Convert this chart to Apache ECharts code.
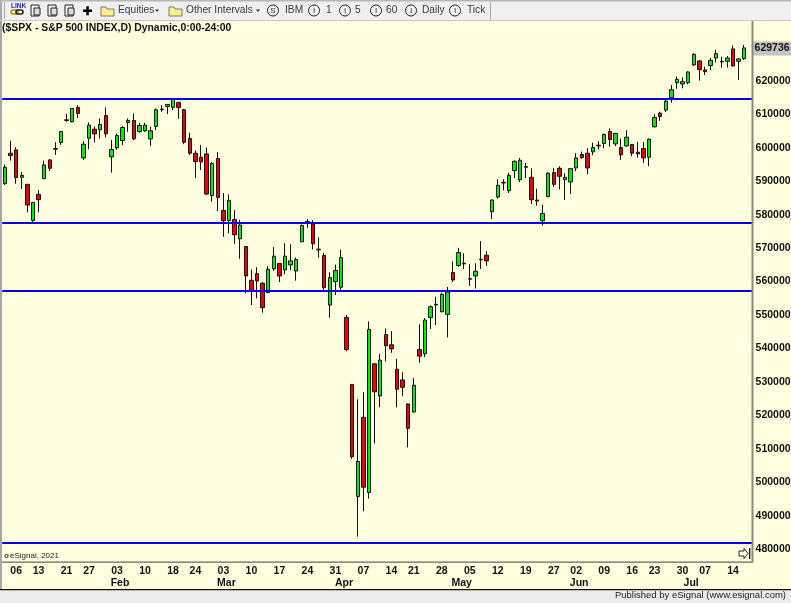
<!DOCTYPE html>
<html>
<head>
<meta charset="utf-8">
<style>html,body{margin:0;padding:0;background:#ffffe0}#main{width:791px;height:603px}</style>
<script src="https://cdn.jsdelivr.net/npm/echarts@6/dist/echarts.min.js"></script>
</head>
<body>
<div id="main"></div>
<script>
// daily bars, S&P 500 points
var opens = [5893,5984,5994,5912,5891,5783,5861,5908,5964,5996,6016,6082,6078,6121,5970,6029,6056,6054,6097,5973,6000,6022,6076,6082,6049,6051,6027,6064,6114,6124,6121,6136,6114,6028,5984,
  5972,5982,5857,5968,5813,5783,5786,5728,5705,5604,5624,5595,5567,5638,5654,5635,5650,5632,5719,5778,5772,5695,5678,5530,5600,5583,5493,5292,4957,5194,4969,5354,5258,5442,5411,5338,5306,5234,5210,5397,5384,5492,5530,5510,5502,
  5627,5648,5653,5607,5617,5665,5679,5809,5853,5895,5872,5932,5905,5942,5912,5841,5782,5854,5926,5939,5905,5898,5940,5980,5984,5988,6006,6013,6049,6012,6001,6006,6010,5987,5998,5972,6063,6104,6113,6150,6195,6191,6195,6248,6260,6233,6246,6269,6257,6259,6296,6259,6267];
var closes = [5942,5977,5911,5918,5829,5837,5845,5949,5939,5998,6049,6084,6118,6103,6011,6068,6042,6070,6042,5995,6037,6061,6082,6027,6067,6068,6051,6114,6116,6130,6145,6121,6017,5984,5959,
  5958,5862,5953,5852,5782,5843,5740,5769,5617,5573,5602,5522,5637,5676,5617,5676,5662,5666,5768,5780,5713,5697,5582,5612,5633,5672,5397,5076,5062,4985,5457,5270,5365,5408,5399,5278,5284,5161,5290,5377,5485,5525,5532,5562,5569,
  5605,5687,5655,5609,5631,5667,5662,5844,5888,5897,5918,5960,5963,5944,5845,5844,5804,5924,5891,5915,5912,5938,5970,5971,5940,6001,6008,6040,6025,6043,5979,6032,5984,5982,5970,6026,6091,6094,6140,6174,6205,6198,6227,6280,6234,6228,6262,6282,6259,6269,6245,6266,6299];
var lows = [5889,5962,5893,5877,5807,5776,5807,5908,5931,5979,6009,6078,6076,6089,5964,5996,6016,6028,6031,5926,5994,6008,6048,6023,6045,6048,6006,6053,6108,6101,6113,6087,6011,5979,5910,
  5934,5859,5839,5811,5734,5744,5712,5668,5565,5530,5550,5507,5565,5632,5599,5622,5634,5603,5719,5761,5696,5672,5573,5492,5560,5573,5392,5070,4837,4913,4951,5116,5224,5361,5387,5224,5257,5104,5208,5357,5374,5458,5470,5508,5433,
  5599,5644,5637,5587,5579,5638,5647,5787,5848,5873,5865,5910,5898,5910,5832,5827,5768,5853,5883,5876,5844,5862,5930,5967,5921,5978,5995,5999,6003,6005,5964,6003,5975,5971,5955,5945,6061,6081,6107,6135,6177,6178,6190,6245,6201,6218,6233,6255,6240,6240,6243,6203,6263];
var highs = [5950,6021,6002,5928,5891,5837,5874,5962,5966,6017,6051,6102,6118,6128,6020,6076,6064,6088,6121,6024,6043,6065,6088,6103,6075,6075,6063,6118,6128,6131,6148,6136,6116,6045,5992,
  6009,6001,5958,5987,5865,5861,5814,5784,5705,5636,5643,5599,5646,5703,5654,5715,5712,5672,5771,5787,5784,5732,5686,5628,5651,5696,5500,5294,5248,5269,5481,5356,5384,5460,5452,5369,5329,5236,5312,5472,5491,5529,5555,5567,5584,
  5660,5701,5685,5652,5655,5721,5691,5846,5906,5906,5926,5962,5970,5955,5939,5878,5830,5927,5940,5945,5924,5938,5984,5989,5999,6016,6020,6043,6058,6045,6028,6053,6010,6018,6018,6028,6101,6108,6145,6188,6214,6211,6229,6283,6263,6243,6269,6293,6273,6275,6306,6269,6308];
var levels = [6147.7, 5776, 5573, 4819];
var lastPrice = 6297.36;
var yTicks = [4800,4900,5000,5100,5200,5300,5400,5500,5600,5700,5800,5900,6000,6100,6200];
var dayIdx = [2,6,11,15,20,25,30,34,39,44,49,54,59,64,69,73,78,83,88,93,98,102,107,112,116,121,125,130];
var dayLabels = ['06','13','21','27','03','10','18','24','03','10','17','24','31','07','14','21','28','05','12','19','27','02','09','16','23','30','07','14'];
var monthIdx = [20,39,60,81,102,122];
var monthLabels = ['Feb','Mar','Apr','May','Jun','Jul'];

var chart = echarts.init(document.getElementById('main'));
var font = '"Liberation Sans", Arial, sans-serif';

var category = [];
var rows = [];
for (var i = 0; i < opens.length; i++) {
    category.push(i);
    rows.push([opens[i], closes[i], lows[i], highs[i]]);
}
category.push(opens.length); // empty slot before the price axis
rows.push(['-', '-', '-', '-']);

var levelLines = levels.map(function (v) {
    return {yAxis: v, lineStyle: {color: '#0000e6', width: 2, type: 'solid'}, label: {show: false}};
});
levelLines.push({
    yAxis: lastPrice,
    lineStyle: {color: 'rgba(0,0,0,0)', width: 1, type: 'solid'},
    label: {
        show: true, position: 'end', distance: 0,
        formatter: String(Math.round(lastPrice * 100)),
        color: '#111', fontFamily: font, fontWeight: 'bold', fontSize: 10.5,
        backgroundColor: '#c4c4c4', padding: [2, 2, 1, 2]
    }
});

function uiText(x, y, s, color, align) {
    return {
        type: 'text', x: x, y: y, z: 20,
        style: {text: s, fill: color || '#3a3a3a', font: '10.2px ' + font, textVerticalAlign: 'middle', textAlign: align || 'left'}
    };
}
function circled(cx, s) {
    return [
        {type: 'circle', z: 20, shape: {cx: cx, cy: 10.5, r: 5.5}, style: {fill: '#f6f6f6', stroke: '#222', lineWidth: 1}},
        {type: 'text', x: cx, y: 10.5, z: 21, style: {text: s, fill: '#222', font: '8px ' + font, textAlign: 'center', textVerticalAlign: 'middle'}}
    ];
}
function folder(x) {
    return [
        {type: 'polygon', z: 20, shape: {points: [[x, 7], [x + 5, 7], [x + 6, 9], [x + 13, 9], [x + 13, 16], [x, 16]]}, style: {fill: '#ffee88', stroke: '#777', lineWidth: 1}}
    ];
}
function caret(x) {
    return {type: 'polygon', z: 20, shape: {points: [[x - 2, 9.5], [x + 2, 9.5], [x, 12]]}, style: {fill: '#333'}};
}
function docIcon(x) {
    return [
        {type: 'rect', z: 20, shape: {x: x, y: 5, width: 8, height: 11}, style: {fill: '#f4f4f4', stroke: '#222', lineWidth: 1}},
        {type: 'rect', z: 20, shape: {x: x + 3, y: 8, width: 6, height: 7}, style: {fill: '#dddddd', stroke: '#222', lineWidth: 1}}
    ];
}

var graphics = [
    {type: 'rect', z: 10, shape: {x: 0, y: 0, width: 791, height: 20.5}, style: {fill: '#f0f0f0'}},
    {type: 'rect', z: 11, shape: {x: 0, y: 0, width: 791, height: 1.5}, style: {fill: '#b8b8b8'}},
    {type: 'rect', z: 11, shape: {x: 0, y: 20, width: 791, height: 1}, style: {fill: '#c8c8c8'}},
    {type: 'rect', z: 11, shape: {x: 4, y: 2, width: 1, height: 17}, style: {fill: '#aaaaaa'}},
    {type: 'rect', z: 11, shape: {x: 490, y: 2, width: 1, height: 18}, style: {fill: '#aaaaaa'}},
    {type: 'rect', z: 10, shape: {x: 0, y: 0, width: 2, height: 590}, style: {fill: '#a8a8a8'}},
    {type: 'rect', z: 10, shape: {x: 0, y: 590, width: 791, height: 13}, style: {fill: '#ececec'}},
    {type: 'rect', z: 11, shape: {x: 0, y: 589, width: 791, height: 1.2}, style: {fill: '#111'}},
    {type: 'rect', z: 11, shape: {x: 2, y: 561.5, width: 751, height: 1.2}, style: {fill: '#666'}},
    {type: 'rect', z: 11, shape: {x: 751.5, y: 21, width: 2, height: 541}, style: {fill: '#8a8a80'}},
    // toolbar
    {type: 'text', x: 11, y: 3, z: 20, style: {text: 'LINK', fill: '#2222cc', font: 'bold 6.5px ' + font}},
    {type: 'rect', z: 20, shape: {x: 11, y: 10, width: 7, height: 4, r: 2}, style: {fill: 'none', stroke: '#b09000', lineWidth: 1.6}},
    {type: 'rect', z: 20, shape: {x: 16, y: 10, width: 7, height: 4, r: 2}, style: {fill: 'none', stroke: '#222', lineWidth: 1.6}},
    {type: 'rect', z: 20, shape: {x: 83, y: 9.5, width: 9, height: 2.5}, style: {fill: '#000'}},
    {type: 'rect', z: 20, shape: {x: 86.3, y: 6.3, width: 2.5, height: 9}, style: {fill: '#000'}},
    uiText(118, 10.5, 'Equities'),
    uiText(186, 10.5, 'Other Intervals'),
    caret(157), caret(258),
    uiText(285, 10.5, 'IBM'),
    uiText(326, 10.5, '1'),
    uiText(355, 10.5, '5'),
    uiText(386, 10.5, '60'),
    uiText(422, 10.5, 'Daily'),
    uiText(467, 10.5, 'Tick'),
    // inside the plot
    {type: 'text', x: 2, y: 28.5, z: 20, style: {text: '($SPX - S&P 500 INDEX,D) Dynamic,0:00-24:00', fill: '#111', font: 'bold 10.4px ' + font, textVerticalAlign: 'middle'}},
    {type: 'circle', z: 20, shape: {cx: 6.5, cy: 556, r: 1.6}, style: {fill: 'none', stroke: '#222', lineWidth: 1}},
    {type: 'text', x: 10, y: 556, z: 20, style: {text: 'eSignal, 2021', fill: '#222', font: '8px ' + font, textVerticalAlign: 'middle'}},
    {type: 'polygon', z: 20, shape: {points: [[739, 551], [744, 551], [744, 548.5], [748, 553.5], [744, 558.5], [744, 556], [739, 556]]}, style: {fill: '#fff', stroke: '#222', lineWidth: 1}},
    {type: 'rect', z: 20, shape: {x: 749, y: 548, width: 1.4, height: 11}, style: {fill: '#222'}},
    // status bar
    {type: 'text', x: 786, y: 595.5, z: 20, style: {text: 'Published by eSignal (www.esignal.com)', fill: '#222', font: '9.5px ' + font, textAlign: 'right', textVerticalAlign: 'middle'}}
];
[273].forEach(function (x) { graphics = graphics.concat(circled(x, 'S')); });
[314, 345, 376, 411, 455].forEach(function (x) { graphics = graphics.concat(circled(x, 'I')); });
[101, 169].forEach(function (x) { graphics = graphics.concat(folder(x)); });
[31, 48, 65].forEach(function (x) { graphics = graphics.concat(docIcon(x)); });

var option = {
    animation: false,
    backgroundColor: '#ffffe0',
    grid: {left: 2.2, top: 21, width: 750.4, height: 541, containLabel: false, outerBoundsMode: 'none'},
    graphic: {elements: graphics},
    xAxis: [{
        type: 'category',
        data: category,
        boundaryGap: true,
        axisLine: {show: false},
        axisTick: {show: false, interval: function (i) { return dayIdx.indexOf(i) >= 0; }},
        splitLine: {show: false},
        axisLabel: {
            margin: 4,
            color: '#111',
            fontFamily: font,
            fontWeight: 'bold',
            fontSize: 10.5,
            interval: function (i) { return dayIdx.indexOf(i) >= 0; },
            formatter: function (v, i) { return dayLabels[dayIdx.indexOf(i)]; }
        }
    }, {
        type: 'category',
        position: 'bottom',
        data: category,
        axisLine: {show: false},
        axisTick: {show: false},
        axisLabel: {
            margin: 16,
            color: '#111',
            fontFamily: font,
            fontWeight: 'bold',
            fontSize: 10.5,
            padding: [0, 0, 0, 6],
            interval: function (i) { return monthIdx.indexOf(i) >= 0; },
            formatter: function (v, i) { return monthLabels[monthIdx.indexOf(i)]; }
        }
    }],
    yAxis: {
        type: 'value',
        position: 'right',
        min: 4761.3,
        max: 6379.5,
        axisLine: {show: false},
        axisTick: {show: false, customValues: yTicks},
        splitLine: {show: true, lineStyle: {color: '#fffff2', width: 1, type: 'dotted'}},
        axisLabel: {
            customValues: yTicks,
            margin: 3,
            color: '#111',
            fontFamily: font,
            fontWeight: 'bold',
            fontSize: 10.5,
            formatter: function (v) { return String(v * 100); }
        }
    },
    series: [{
        type: 'candlestick',
        data: rows,
        barWidth: 4,
        itemStyle: {
            color: '#00ee00',
            color0: '#f20000',
            borderColor: '#111',
            borderColor0: '#111',
            borderWidth: 1
        },
        markLine: {
            silent: true,
            symbol: 'none',
            animation: false,
            data: levelLines
        }
    }]
};

chart.setOption(option);
</script>
</body>
</html>
